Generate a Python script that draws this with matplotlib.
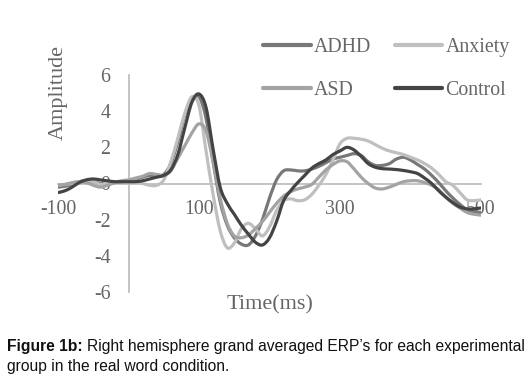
import matplotlib
matplotlib.use("Agg")
import matplotlib.pyplot as plt
import numpy as np
from matplotlib.path import Path
from matplotlib.patches import PathPatch
from matplotlib.lines import Line2D

# time axis (ms), 10 ms steps
time_ms = list(range(-100, 501, 10))

adhd = [
    -0.2, -0.15, -0.05, 0.1, 0.15, 0.1, 0.0, -0.05, 0.05, 0.1,
    0.15, 0.25, 0.35, 0.45, 0.45, 0.5, 1.1, 2.3, 3.8, 4.6,
    4.8, 3.6, 1.2, -1.0, -2.3, -3.0, -3.35, -3.4, -2.9, -2.0,
    -0.8, 0.2, 0.7, 0.75, 0.7, 0.7, 0.8, 0.95, 1.15, 1.35,
    1.45, 1.55, 1.65, 1.55, 1.2, 1.0, 1.0, 1.1, 1.35, 1.45,
    1.3, 1.05, 0.8, 0.45, 0.05, -0.4, -0.8, -1.15, -1.45, -1.55,
    -1.6,
]
anxiety = [
    -0.1, -0.05, 0.0, 0.1, 0.15, 0.1, -0.05, 0.0, 0.05, 0.1,
    0.15, 0.15, 0.0, -0.1, -0.1, 0.2, 1.2, 2.5, 3.9, 4.8,
    4.3, 1.8, -0.6, -2.6, -3.55, -3.3, -2.5, -2.2, -2.5, -2.9,
    -2.4, -1.5, -0.95, -0.85, -0.95, -0.9, -0.6, -0.1, 0.5, 1.3,
    2.2, 2.5, 2.5, 2.45, 2.35, 2.15, 1.95, 1.8, 1.7, 1.6,
    1.45, 1.3, 1.1, 0.85, 0.5, 0.1, -0.1, -0.5, -0.9, -0.95,
    -0.9,
]
asd = [
    -0.1, -0.05, 0.05, 0.1, 0.05, -0.1, -0.2, -0.1, 0.05, 0.15,
    0.2, 0.3, 0.4, 0.55, 0.5, 0.45, 0.7, 1.4, 2.1, 2.8,
    3.3, 2.9, 1.2, -0.8, -2.2, -2.9, -3.0, -2.85, -2.5, -2.1,
    -1.6, -1.1, -0.7, -0.45, -0.3, -0.2, -0.05, 0.35, 0.75, 1.05,
    1.25, 1.2, 0.8, 0.35, 0.0, -0.25, -0.3, -0.2, -0.05, 0.1,
    0.15, 0.15, 0.05, -0.1, -0.35, -0.75, -1.1, -1.35, -1.6, -1.7,
    -1.75,
]
control = [
    -0.5, -0.4, -0.2, 0.05, 0.2, 0.25, 0.2, 0.15, 0.1, 0.1,
    0.1, 0.1, 0.15, 0.25, 0.35, 0.45, 0.75, 1.6, 3.1, 4.5,
    4.95, 4.2, 1.9, -0.2, -1.1, -1.7, -2.3, -2.8, -3.25, -3.4,
    -3.0, -2.1, -0.95, -0.4, 0.05, 0.45, 0.85, 1.1, 1.3, 1.6,
    1.8, 2.0, 1.85, 1.5, 1.1, 0.9, 0.82, 0.8, 0.77, 0.72,
    0.65, 0.55, 0.3, 0.0, -0.4, -0.75, -1.05, -1.3, -1.4, -1.4,
    -1.35,
]

series = [("ADHD", adhd), ("Anxiety", anxiety), ("ASD", asd), ("Control", control)]
colors = {"ADHD": "#787878", "Anxiety": "#bfbfbf", "ASD": "#a3a3a3", "Control": "#444444"}

x_ticks = [-100, 100, 300, 500]
y_ticks = [-6, -4, -2, 0, 2, 4, 6]


def smooth_path(xs, ys):
    """Catmull-Rom through the points, as cubic Bezier segments (Excel-style smoothed line)."""
    pts = np.column_stack([xs, ys]).astype(float)
    ext = np.vstack([pts[0], pts, pts[-1]])
    verts = [pts[0]]
    codes = [Path.MOVETO]
    for i in range(1, len(ext) - 2):
        p0, p1, p2, p3 = ext[i - 1], ext[i], ext[i + 1], ext[i + 2]
        verts += [p1 + (p2 - p0) / 6, p2 - (p3 - p1) / 6, p2]
        codes += [Path.CURVE4] * 3
    return Path(verts, codes)


W, H = 531, 379
fig = plt.figure(figsize=(W / 100, H / 100), dpi=100)
ax = fig.add_axes([58 / W, 1 - 292 / H, 423 / W, 217 / H])

for name, vals in series:
    ax.add_patch(PathPatch(smooth_path(time_ms, vals), fill=False, edgecolor=colors[name],
                           lw=2.3, zorder=3, capstyle="round", joinstyle="round"))

ax.set_xlim(-100, 500)
ax.set_ylim(-6, 6)
ax.patch.set_visible(False)

axis_grey = "#bfbfbf"
text_grey = "#666666"
for s in ["top", "right"]:
    ax.spines[s].set_visible(False)
ax.spines["left"].set_position(("data", 0))
ax.spines["bottom"].set_position(("data", 0))
for s in ["left", "bottom"]:
    ax.spines[s].set_color(axis_grey)
    ax.spines[s].set_linewidth(1.3)

ax.set_xticks(x_ticks)
ax.set_yticks(y_ticks)
ax.set_xticklabels([str(v) for v in x_ticks])
ax.set_yticklabels([str(v) for v in y_ticks])
ax.tick_params(axis="both", length=0, labelsize=14.3, labelcolor=text_grey)
ax.tick_params(axis="y", pad=13)
ax.tick_params(axis="x", pad=12)
for lbl in ax.get_xticklabels() + ax.get_yticklabels():
    lbl.set_family("Liberation Serif")

fig.text(58 / W, 1 - 92 / H, "Amplitude", rotation=90, ha="center", va="center",
         fontsize=16, color=text_grey, family="Liberation Serif")
fig.text(270 / W, 1 - 305 / H, "Time(ms)", ha="center", va="center",
         fontsize=16, color=text_grey, family="Liberation Serif")

# legend fills column-wise, so order handles to read row-wise like the original
leg_order = ["ADHD", "ASD", "Anxiety", "Control"]
handles = [Line2D([], [], color=colors[n], lw=3, solid_capstyle="round") for n in leg_order]
leg = ax.legend(handles, leg_order, loc="upper left", bbox_to_anchor=(263 / W, 1 - 38 / H),
                bbox_transform=fig.transFigure, ncol=2, frameon=False,
                borderpad=0, borderaxespad=0, handlelength=2.4,
                handletextpad=0.15, columnspacing=1.2, labelspacing=1.2,
                prop={"family": "Liberation Serif", "size": 14.3})
for t in leg.get_texts():
    t.set_color(text_grey)

# caption with bold lead-in
fig.canvas.draw()
renderer = fig.canvas.get_renderer()
cap_size = 11.25
bold = fig.text(7 / W, 1 - 347 / H, "Figure 1b:", ha="left", va="center",
                fontsize=cap_size, fontweight="bold", family="Liberation Sans", color="#111111")
bb = bold.get_window_extent(renderer)
fig.text(bb.x1 / W + 4 / W, 1 - 347 / H,
         "Right hemisphere grand averaged ERP\u2019s for each experimental",
         ha="left", va="center", fontsize=cap_size, family="Liberation Sans", color="#111111")
fig.text(7 / W, 1 - 367 / H, "group in the real word condition.", ha="left", va="center",
         fontsize=cap_size, family="Liberation Sans", color="#111111")

fig.savefig("out.png", dpi=100)
